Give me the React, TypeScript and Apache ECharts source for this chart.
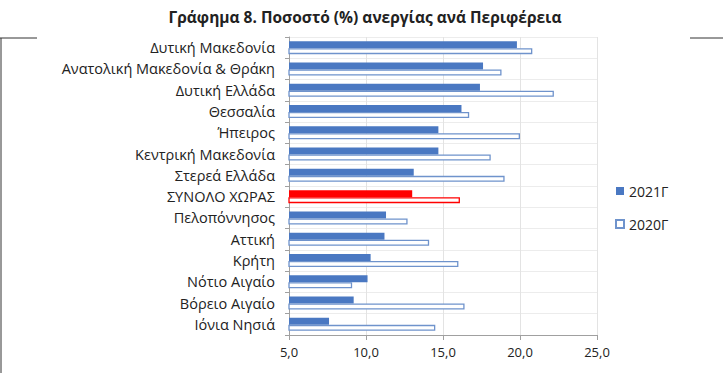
import React, { useEffect, useRef } from "react";
import * as echarts from "echarts";

const categories = [
  "Δυτική Μακεδονία",
  "Ανατολική Μακεδονία & Θράκη",
  "Δυτική Ελλάδα",
  "Θεσσαλία",
  "Ήπειρος",
  "Κεντρική Μακεδονία",
  "Στερεά Ελλάδα",
  "ΣΥΝΟΛΟ ΧΩΡΑΣ",
  "Πελοπόννησος",
  "Αττική",
  "Κρήτη",
  "Νότιο Αιγαίο",
  "Βόρειο Αιγαίο",
  "Ιόνια Νησιά",
];
const values2021 = [19.8, 17.6, 17.4, 16.2, 14.7, 14.7, 13.1, 13.0, 11.3, 11.2, 10.3, 10.1, 9.2, 7.6];
const values2020 = [20.8, 18.8, 22.2, 16.7, 20.0, 18.1, 19.0, 16.1, 12.7, 14.1, 16.0, 9.1, 16.4, 14.5];
const seriesNames = ["2021Γ", "2020Γ"];
const totalLabel = "ΣΥΝΟΛΟ ΧΩΡΑΣ";
const title = "Γράφημα 8. Ποσοστό (%) ανεργίας ανά Περιφέρεια";

const BLUE = "#4a78c2";
const BLUE_BORDER = "#6f93cc";
const RED = "#ff0000";
const FONT = "'Open Sans', 'Noto Sans', sans-serif";

export default function App() {
  const ref = useRef<HTMLDivElement>(null);
  useEffect(() => {
    if (!ref.current) return;
    const chart = echarts.init(ref.current, undefined, { renderer: "svg" });
    const d21 = values2021.map((v, i) =>
      categories[i] === totalLabel ? { value: v, itemStyle: { color: RED } } : v
    );
    const d20 = values2020.map((v, i) =>
      categories[i] === totalLabel
        ? { value: v, itemStyle: { color: "#ffffff", borderColor: RED } }
        : v
    );
    chart.setOption({
      animation: false,
      backgroundColor: "#ffffff",
      title: {
        text: title,
        left: 360,
        textAlign: "center",
        top: 4,
        textStyle: { fontFamily: FONT, fontSize: 15.5, fontWeight: "bold", color: "#222" },
      },
      legend: {
        orient: "vertical",
        left: 610,
        top: 179,
        itemGap: 19,
        itemWidth: 8,
        itemHeight: 8,
        data: [
          { name: seriesNames[0], icon: "rect" },
          { name: seriesNames[1], icon: "rect" },
        ],
        textStyle: { fontFamily: FONT, fontSize: 14, color: "#222" },
      },
      grid: { left: 289, right: 126, top: 37, bottom: 38, containLabel: false },
      xAxis: {
        type: "value",
        min: 5,
        max: 25,
        interval: 5,
        axisLine: { show: true, lineStyle: { color: "#a0a0a0" } },
        axisTick: { show: true, length: 5, lineStyle: { color: "#a0a0a0" } },
        splitLine: { show: true, lineStyle: { color: "#e3e3e3" } },
        axisLabel: {
          formatter: (v: number) => v.toFixed(1).replace(".", ","),
          fontFamily: FONT,
          fontSize: 13,
          color: "#222",
          margin: 10,
        },
      },
      yAxis: {
        type: "category",
        inverse: true,
        data: categories,
        axisLine: { show: true, lineStyle: { color: "#a0a0a0" } },
        axisTick: { show: true, length: 4, lineStyle: { color: "#a0a0a0" } },
        splitLine: { show: true, lineStyle: { color: "#ececec" } },
        axisLabel: { fontFamily: FONT, fontSize: 14.5, color: "#222", margin: 14 },
      },
      series: [
        {
          name: seriesNames[0],
          type: "bar",
          data: d21,
          barWidth: 7,
          barGap: "0%",
          itemStyle: { color: BLUE },
        },
        {
          name: seriesNames[1],
          type: "bar",
          data: d20,
          barWidth: 6,
          barGap: "0%",
          itemStyle: { color: "#ffffff", borderColor: BLUE_BORDER, borderWidth: 1.3 },
        },
      ],
      graphic: [
        { type: "line", shape: { x1: 0, y1: 38, x2: 37, y2: 38 }, style: { stroke: "#333", lineWidth: 1 } },
        { type: "line", shape: { x1: 1, y1: 38, x2: 1, y2: 373 }, style: { stroke: "#333", lineWidth: 1 } },
        { type: "line", shape: { x1: 690, y1: 38, x2: 723, y2: 38 }, style: { stroke: "#333", lineWidth: 1 } },
      ],
    });
    return () => chart.dispose();
  }, []);
  return (
    <div
      ref={ref}
      style={{ position: "fixed", left: 0, top: 0, width: 723, height: 373 }}
    />
  );
}
